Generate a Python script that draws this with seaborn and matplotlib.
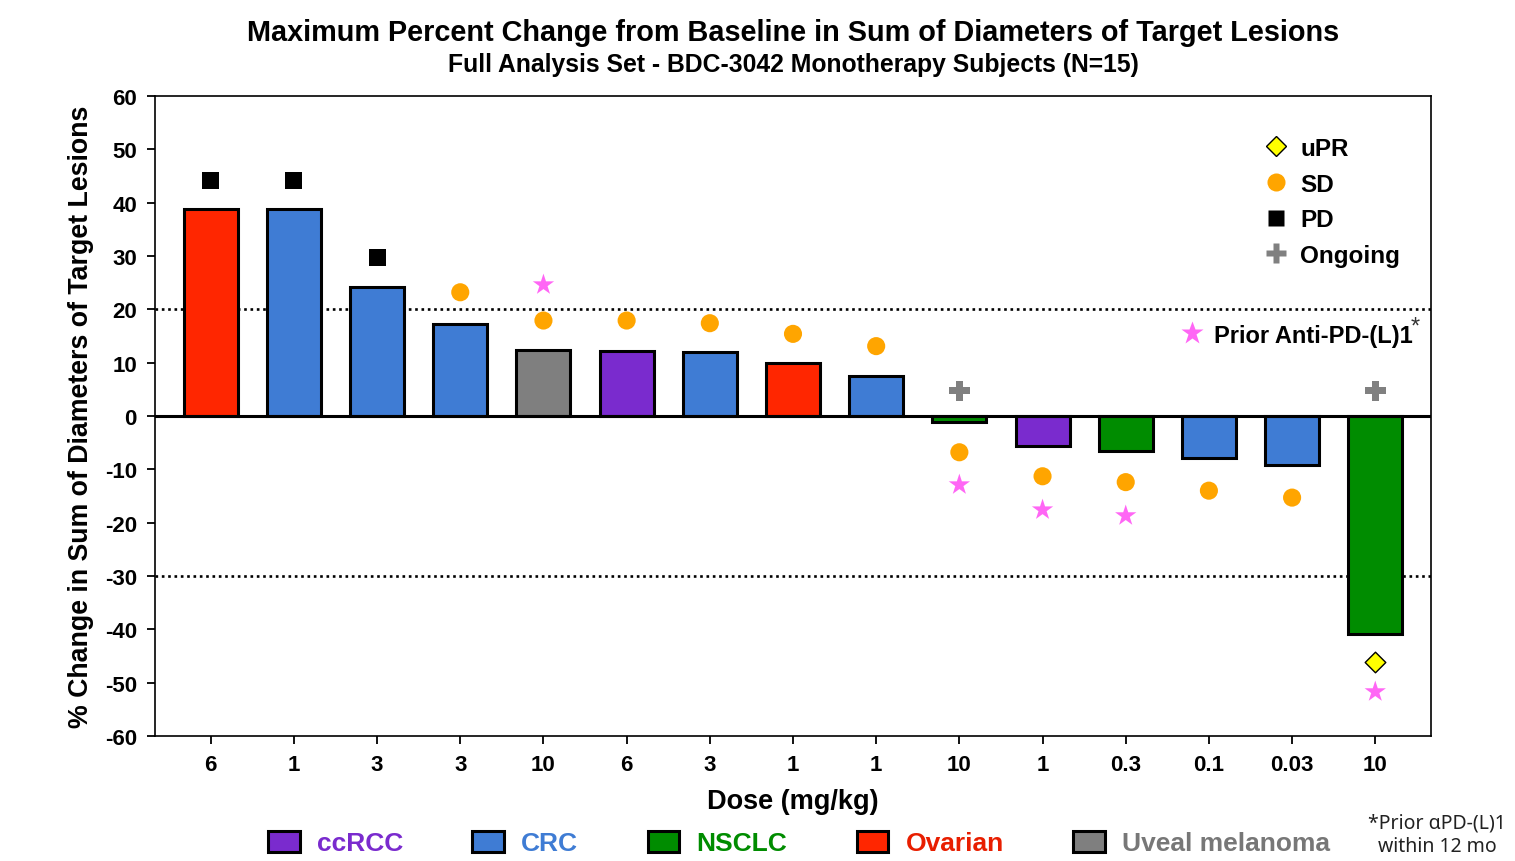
import matplotlib
matplotlib.use("Agg")
import matplotlib.pyplot as plt
import seaborn as sns
import pandas as pd
from matplotlib.patches import Patch
from matplotlib.lines import Line2D

# ---------------- data ----------------
doses = ["6", "1", "3", "3", "10", "6", "3", "1", "1", "10", "1", "0.3", "0.1", "0.03", "10"]
tumors = ["Ovarian", "CRC", "CRC", "CRC", "Uveal melanoma", "ccRCC", "CRC", "Ovarian", "CRC",
          "NSCLC", "ccRCC", "NSCLC", "CRC", "CRC", "NSCLC"]
pct_change = [38.8, 38.8, 24.1, 17.2, 12.4, 12.2, 12.0, 9.9, 7.5,
              -1.1, -5.7, -6.5, -7.9, -9.1, -40.9]

pd_idx = [0, 1, 2]
pd_y = [44.2, 44.2, 29.8]
sd_idx = [3, 4, 5, 6, 7, 8, 9, 10, 11, 12, 13]
sd_y = [23.2, 17.9, 17.9, 17.4, 15.4, 13.1, -6.8, -11.3, -12.4, -14.0, -15.3]
upr_idx = [14]
upr_y = [-46.1]
ongoing_idx = [9, 14]
ongoing_y = [4.7, 4.7]
prior_idx = [4, 9, 10, 11, 14]
prior_y = [24.6, -12.9, -17.6, -18.7, -51.7]

tumor_order = ["ccRCC", "CRC", "NSCLC", "Ovarian", "Uveal melanoma"]
tumor_colors = {"ccRCC": "#7A2BCE", "CRC": "#3F7CD4", "NSCLC": "#008C00",
                "Ovarian": "#FF2600", "Uveal melanoma": "#7F7F7F"}
text_colors = {"ccRCC": "#7A2BCE", "CRC": "#3F7CD4", "NSCLC": "#008C00",
               "Ovarian": "#E81E00", "Uveal melanoma": "#777777"}

# ---------------- plot ----------------
sns.set_theme(style="white")
plt.rcParams["font.family"] = ["Liberation Sans", "DejaVu Sans"]
plt.rcParams["font.weight"] = "bold"
plt.rcParams["text.color"] = "black"
plt.rcParams["axes.labelcolor"] = "black"
plt.rcParams["xtick.color"] = "black"
plt.rcParams["ytick.color"] = "black"
plt.rcParams["axes.unicode_minus"] = False

fig = plt.figure(figsize=(15.15, 8.62), dpi=100)
ax = fig.add_axes([155 / 1515, 1 - 737 / 862, (1431 - 155) / 1515, (737 - 97) / 862])

df = pd.DataFrame({"pos": list(range(len(pct_change))), "change": pct_change, "tumor": tumors})
bar_colors = [tumor_colors[t] for t in tumors]
sns.barplot(data=df, x="pos", y="change", hue="pos", palette=bar_colors, legend=False,
            width=0.65, edgecolor="black", linewidth=2.2, saturation=1, ax=ax, zorder=2)

# reference lines
dot = (0, (1, 1.4))
ax.axhline(20, color="black", lw=1.9, ls=dot, zorder=1)
ax.axhline(-30, color="black", lw=1.9, ls=dot, zorder=1)
ax.axhline(0, color="black", lw=2.2, zorder=3)

# response markers
sns.scatterplot(x=pd_idx, y=pd_y, marker="s", s=150, color="black", edgecolor="none", ax=ax, zorder=4)
sns.scatterplot(x=sd_idx, y=sd_y, marker="o", s=170, color="#FFA500", edgecolor="none", ax=ax, zorder=4)
sns.scatterplot(x=upr_idx, y=upr_y, marker="D", s=110, color="#FFFF00", edgecolor="black",
                linewidth=1, ax=ax, zorder=4)
sns.scatterplot(x=ongoing_idx, y=ongoing_y, marker="P", s=220, color="#808080", edgecolor="none", ax=ax, zorder=4)
sns.scatterplot(x=prior_idx, y=prior_y, marker="*", s=260, color="#FF66F5", edgecolor="none", ax=ax, zorder=4)

ax.set_xlim(-0.67, len(pct_change) - 1 + 0.67)
ax.set_ylim(-60, 60)
ax.set_yticks(range(-60, 61, 10))
ax.set_xticks(range(len(doses)))
ax.set_xticklabels(doses)
ax.tick_params(axis="both", which="major", direction="out", length=6, width=1.3,
               labelsize=16, colors="black", bottom=True, left=True, pad=7)
for lab in ax.get_xticklabels() + ax.get_yticklabels():
    lab.set_fontweight("bold")
for sp in ax.spines.values():
    sp.set_visible(True)
    sp.set_color("black")
    sp.set_linewidth(1.2)

ax.set_xlabel("Dose (mg/kg)", fontsize=19.5, fontweight="bold", labelpad=9)
ax.set_ylabel("% Change in Sum of Diameters of Target Lesions", fontsize=19.3,
              fontweight="bold", labelpad=8)

# titles
fig.text(793 / 1515, 1 - 33 / 862, "Maximum Percent Change from Baseline in Sum of Diameters of Target Lesions",
         ha="center", va="center", fontsize=20.8, fontweight="bold")
fig.text(793 / 1515, 1 - 65 / 862, "Full Analysis Set - BDC-3042 Monotherapy Subjects (N=15)",
         ha="center", va="center", fontsize=17.8, fontweight="bold")

# response legend
resp_handles = [
    Line2D([], [], ls="none", marker="D", markersize=10, markerfacecolor="#FFFF00", markeredgecolor="black", markeredgewidth=1),
    Line2D([], [], ls="none", marker="o", markersize=13, markerfacecolor="#FFA500", markeredgecolor="none"),
    Line2D([], [], ls="none", marker="s", markersize=12, markerfacecolor="black", markeredgecolor="none"),
    Line2D([], [], ls="none", marker="P", markersize=14, markerfacecolor="#808080", markeredgecolor="none"),
]
leg1 = ax.legend(resp_handles, ["uPR", "SD", "PD", "Ongoing"], loc="upper left",
                 bbox_to_anchor=((1264 - 155) / (1431 - 155), 1 - (138 - 97) / 640),
                 frameon=False, prop={"size": 17.5, "weight": "bold"}, handlelength=1.0,
                 handletextpad=0.5, labelspacing=0.52, borderpad=0, borderaxespad=0)
ax.add_artist(leg1)

prior_handle = [Line2D([], [], ls="none", marker="*", markersize=17, markerfacecolor="#FF66F5", markeredgecolor="none")]
leg2 = ax.legend(prior_handle, ["Prior Anti-PD-(L)1"], loc="center left",
                 bbox_to_anchor=((1180 - 155) / (1431 - 155), 1 - (336 - 97) / 640),
                 frameon=False, prop={"size": 17, "weight": "bold"}, handlelength=1.0,
                 handletextpad=0.45, borderpad=0, borderaxespad=0)
ax.text((1415 - 155) / (1431 - 155), 1 - (328 - 97) / 640, "*", transform=ax.transAxes,
        ha="center", va="center", fontsize=17, fontweight="normal", color="#333333")

# tumor type legend
tum_handles = [Patch(facecolor=tumor_colors[t], edgecolor="black", linewidth=2.2) for t in tumor_order]
leg3 = fig.legend(tum_handles, tumor_order, loc="center left", bbox_to_anchor=(268 / 1515, 1 - 844 / 862),
                  ncol=5, frameon=False, prop={"size": 19, "weight": "bold"}, handlelength=1.2,
                  handleheight=0.85, handletextpad=0.65, columnspacing=2.63, borderpad=0, borderaxespad=0)
for txt, t in zip(leg3.get_texts(), tumor_order):
    txt.set_color(text_colors[t])

# footnote
fig.text(1437 / 1515, 1 - 835 / 862, "*Prior \u03b1PD-(L)1\nwithin 12 mo", ha="center", va="center",
         fontsize=14, fontweight="normal", family=["Noto Sans", "DejaVu Sans"], color="#222222",
         linespacing=1.25)

fig.savefig("out.png", dpi=100)
